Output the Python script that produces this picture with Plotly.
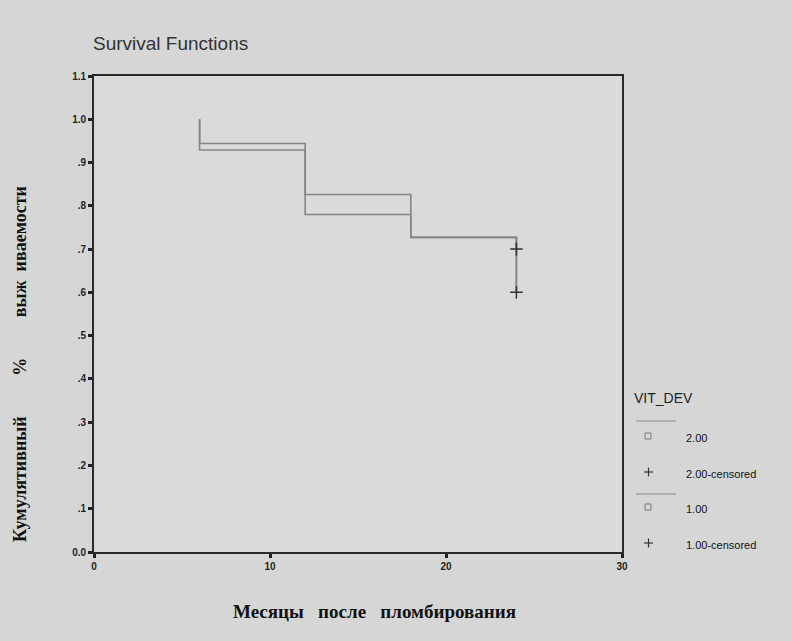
import plotly.graph_objects as go

# Kaplan-Meier survival estimates by group (VIT_DEV)
event_months = [6, 6, 12, 18, 24]
surv_group_2 = [1.0, 0.944, 0.826, 0.727, 0.700]
surv_group_1 = [1.0, 0.929, 0.780, 0.727, 0.600]

censor_month_2 = [24]
censor_surv_2 = [0.700]
censor_month_1 = [24]
censor_surv_1 = [0.600]

y_tick_vals = [0.0, 0.1, 0.2, 0.3, 0.4, 0.5, 0.6, 0.7, 0.8, 0.9, 1.0, 1.1]
y_tick_text = ["0.0", ".1", ".2", ".3", ".4", ".5", ".6", ".7", ".8", ".9", "1.0", "1.1"]
x_tick_vals = [0, 10, 20, 30]
x_tick_text = ["0", "10", "20", "30"]

legend_title = "VIT_DEV"
legend_labels = ["2.00", "2.00-censored", "1.00", "1.00-censored"]

W, H = 792, 641
L, R, T, B = 94, 170, 76, 89
PW, PH = W - L - R, H - T - B

def px(x):
    return (x - L) / PW

def py(y):
    return (H - B - y) / PH

line_col = "#858585"
fig = go.Figure()

fig.add_trace(go.Scatter(x=event_months, y=surv_group_2, mode="lines",
                         line=dict(shape="hv", color=line_col, width=1.6),
                         showlegend=False))
fig.add_trace(go.Scatter(x=event_months, y=surv_group_1, mode="lines",
                         line=dict(shape="hv", color=line_col, width=1.6),
                         showlegend=False))
# vertical connector at the last follow-up time
fig.add_trace(go.Scatter(x=[event_months[-1], event_months[-1]],
                         y=[surv_group_2[-2], surv_group_1[-1]], mode="lines",
                         line=dict(color=line_col, width=1.6), showlegend=False))
for cx, cy in ((censor_month_2, censor_surv_2), (censor_month_1, censor_surv_1)):
    fig.add_trace(go.Scatter(x=cx, y=cy, mode="markers",
                             marker=dict(symbol="cross-thin", size=9,
                                         line=dict(color="#333333", width=1.5)),
                             showlegend=False))

shapes = []
annotations = []

# legend block
annotations.append(dict(x=px(632), y=py(398), xref="paper", yref="paper",
                        text=legend_title, showarrow=False, xanchor="left",
                        yanchor="middle", font=dict(family="Arial", size=14, color="#222")))
for ys in (421, 494):
    shapes.append(dict(type="line", xref="paper", yref="paper",
                       x0=px(636), x1=px(676), y0=py(ys), y1=py(ys),
                       line=dict(color="#888888", width=1)))
key_rows = [436, 472, 507, 543]
for i, (lab, yr) in enumerate(zip(legend_labels, key_rows)):
    if i % 2 == 0:
        shapes.append(dict(type="rect", xref="paper", yref="paper",
                           x0=px(645), x1=px(651), y0=py(yr - 3), y1=py(yr + 3),
                           line=dict(color="#777777", width=1)))
    else:
        shapes.append(dict(type="line", xref="paper", yref="paper",
                           x0=px(644), x1=px(653), y0=py(yr), y1=py(yr),
                           line=dict(color="#333333", width=1.2)))
        shapes.append(dict(type="line", xref="paper", yref="paper",
                           x0=px(648.5), x1=px(648.5), y0=py(yr - 4.5), y1=py(yr + 4.5),
                           line=dict(color="#333333", width=1.2)))
    annotations.append(dict(x=px(684), y=py(yr + 2), xref="paper", yref="paper",
                            text=lab, showarrow=False, xanchor="left", yanchor="middle",
                            font=dict(family="Arial", size=11, color="#111")))

# chart title and axis titles
annotations.append(dict(x=px(91), y=py(43), xref="paper", yref="paper",
                        text="Survival Functions", showarrow=False, xanchor="left",
                        yanchor="middle", font=dict(family="Arial", size=19, color="#333")))
nb = "\u00a0"
annotations.append(dict(x=px(374), y=py(611), xref="paper", yref="paper",
                        text=f"Месяцы{nb*3}после{nb*3}пломбирования", showarrow=False,
                        xanchor="center", yanchor="middle",
                        font=dict(family="Liberation Serif, Times New Roman", size=19,
                                  color="#111", weight="bold")))
annotations.append(dict(x=px(20), y=py(364), xref="paper", yref="paper",
                        text=f"Кумулятивный{nb*9}%{nb*9}выж{nb*2}иваемости", showarrow=False,
                        textangle=-90, xanchor="center", yanchor="middle",
                        font=dict(family="Liberation Serif, Times New Roman", size=18,
                                  color="#111", weight="bold")))

axis_common = dict(showline=True, linecolor="#2a2a2a", linewidth=1.6, mirror=True,
                   showgrid=False, zeroline=False, ticks="outside", ticklen=4,
                   tickwidth=3, tickcolor="#222",
                   tickfont=dict(family="Arial", size=10, color="#222", weight="bold"))

fig.update_layout(
    width=W, height=H,
    margin=dict(l=L, r=R, t=T, b=B),
    paper_bgcolor="#d6d6d6",
    plot_bgcolor="#dadada",
    showlegend=False,
    shapes=shapes,
    annotations=annotations,
    xaxis=dict(range=[0, 30], tickvals=x_tick_vals, ticktext=x_tick_text, **axis_common),
    yaxis=dict(range=[0, 1.1], tickvals=y_tick_vals, ticktext=y_tick_text, **axis_common),
)

fig.write_html("out.html")
